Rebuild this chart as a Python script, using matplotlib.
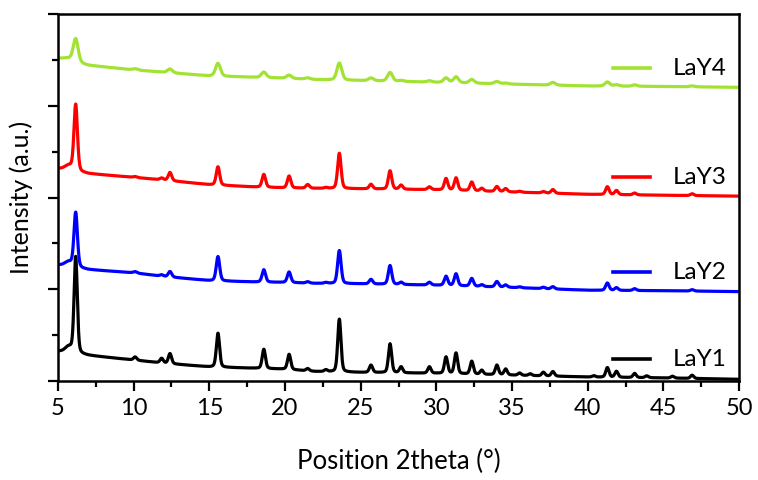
import numpy as np
import matplotlib
matplotlib.use("Agg")
import matplotlib.pyplot as plt
from matplotlib.ticker import MultipleLocator

plt.rcParams['font.family'] = ['Lato', 'DejaVu Sans']

# Reflection positions (2theta, degrees), shared by all samples
peak_pos = [5.7, 6.17, 10.1, 11.85, 12.4, 15.57, 18.6, 20.27, 21.5, 22.7,
            23.59, 25.68, 26.94, 27.67, 29.54, 30.64, 31.3, 32.34, 33.0, 34.0,
            34.58, 35.5, 36.2, 37.07, 37.7, 40.4, 41.3, 41.9, 43.1, 43.9,
            45.6, 46.9]

# Peak heights above background for each sample
h_lay1 = [0.12, 2.10, 0.07, 0.10, 0.22, 0.74, 0.42, 0.33, 0.05, 0.04,
          1.15, 0.16, 0.63, 0.13, 0.14, 0.36, 0.45, 0.28, 0.09, 0.21,
          0.13, 0.05, 0.04, 0.08, 0.10, 0.03, 0.21, 0.13, 0.09, 0.04,
          0.04, 0.07]
h_lay2 = [0.10, 1.19, 0.03, 0.03, 0.12, 0.53, 0.27, 0.23, 0.03, 0.02,
          0.72, 0.10, 0.41, 0.05, 0.06, 0.20, 0.26, 0.17, 0.04, 0.12,
          0.05, 0.02, 0.00, 0.03, 0.05, 0.00, 0.16, 0.06, 0.04, 0.00,
          0.00, 0.03]
h_lay3 = [0.10, 1.45, 0.02, 0.04, 0.18, 0.40, 0.28, 0.26, 0.08, 0.02,
          0.77, 0.10, 0.40, 0.09, 0.06, 0.25, 0.27, 0.19, 0.06, 0.11,
          0.07, 0.02, 0.00, 0.03, 0.08, 0.00, 0.17, 0.09, 0.04, 0.00,
          0.00, 0.04]
h_lay4 = [0.05, 0.50, 0.03, 0.00, 0.08, 0.28, 0.12, 0.07, 0.03, 0.00,
          0.37, 0.06, 0.19, 0.02, 0.03, 0.10, 0.13, 0.08, 0.00, 0.05,
          0.02, 0.00, 0.00, 0.00, 0.06, 0.00, 0.09, 0.03, 0.03, 0.00,
          0.00, 0.02]

# Background level (offset included) at a few angles
bg_pos = [5, 7, 10, 12, 15, 18, 20, 22, 25, 30, 35, 40, 45, 50]
bg_lay1 = [0.65, 0.56, 0.46, 0.39, 0.31, 0.28, 0.26, 0.21, 0.19, 0.17, 0.13, 0.09, 0.07, 0.04]
bg_lay2 = [2.53, 2.43, 2.36, 2.28, 2.19, 2.16, 2.15, 2.13, 2.12, 2.09, 2.04, 1.98, 1.97, 1.95]
bg_lay3 = [4.63, 4.52, 4.44, 4.38, 4.28, 4.23, 4.21, 4.20, 4.19, 4.17, 4.12, 4.07, 4.05, 4.03]
bg_lay4 = [7.03, 6.88, 6.78, 6.73, 6.65, 6.62, 6.60, 6.57, 6.55, 6.51, 6.47, 6.43, 6.42, 6.40]

labels = ['LaY1', 'LaY2', 'LaY3', 'LaY4']
colors = ['black', '#0000ff', '#ff0000', '#a2e232']
fwhm = [0.25, 0.27, 0.27, 0.38]
label_y = [0.48, 2.37, 4.44, 6.82]

two_theta = np.linspace(5, 50, 4501)


def pattern(heights, bg, width):
    y = np.interp(two_theta, bg_pos, bg)
    for p, h in zip(peak_pos, heights):
        w = width * (2.2 if p < 6 else 1.0)
        d = (two_theta - p) / (w / 2)
        gauss = np.exp(-np.log(2) * d ** 2)
        lor = 1 / (1 + d ** 2)
        y += h * (0.7 * gauss + 0.3 * lor)
    return y


fig = plt.figure(figsize=(7.58, 4.8), dpi=100)
ax = fig.add_axes([0.0765, 0.206, 0.8985, 0.765])

series = [(h_lay1, bg_lay1), (h_lay2, bg_lay2), (h_lay3, bg_lay3), (h_lay4, bg_lay4)]
for (h, bg), lab, c, w, ly in zip(series, labels, colors, fwhm, label_y):
    ax.plot(two_theta, pattern(h, bg, w), color=c, lw=2.3, solid_capstyle='round')
    # per-trace key drawn at the right-hand side
    ax.plot([41.7, 44.1], [ly, ly], color=c, lw=2.6)
    ax.text(45.6, ly, lab, fontsize=17.5, va='center', ha='left')

ax.set_xlim(5, 50)
ax.set_ylim(0, 8)
ax.xaxis.set_major_locator(MultipleLocator(5))
ax.xaxis.set_minor_locator(MultipleLocator(2.5))
ax.yaxis.set_major_locator(MultipleLocator(2))
ax.yaxis.set_minor_locator(MultipleLocator(1))
ax.set_yticklabels([])
ax.tick_params(which='both', direction='out', width=1.6, top=False, right=False)
ax.tick_params(which='major', length=7, labelsize=17, pad=5)
ax.tick_params(which='minor', length=4)
for s in ax.spines.values():
    s.set_linewidth(1.8)

ax.set_xlabel('Position 2theta (°)', fontsize=18.5, labelpad=22)
ax.set_ylabel('Intensity (a.u.)', fontsize=18, labelpad=6)

fig.savefig('out.png', dpi=100)
